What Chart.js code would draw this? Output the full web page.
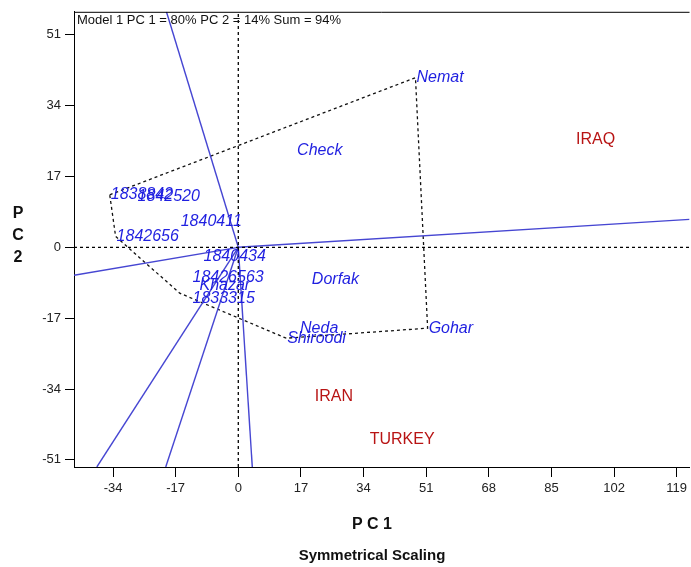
<!DOCTYPE html>
<html>
<head>
<meta charset="utf-8">
<script src="https://cdn.jsdelivr.net/npm/chart.js@4"></script>
<style>
  html,body{margin:0;padding:0;background:#fff;}
  #wrap{width:691px;height:567px;position:relative;}
</style>
</head>
<body>
<div id="wrap"><canvas id="chart"></canvas></div>
<script>
// genotype points (labels start at the point)
const genoNames = ["Nemat","Check","1838842","1842520","1840411","1842656","1840434","18426563","Khazar","1833315","Dorfak","Neda","Shiroodi","Gohar"];
const genoX = [48.1, 15.7, -34.9, -27.6, -15.9, -33.3, -9.7, -12.7, -10.8, -12.7, 19.7, 16.5, 13.0, 51.4];
const genoY = [40.7, 23.2, 12.6, 12.2, 6.2, 2.6, -2.2, -7.2, -9.1, -12.2, -7.7, -19.6, -21.8, -19.4];

// environments
const envNames = ["IRAQ","IRAN","TURKEY"];
const envX = [91.4, 20.5, 35.4];
const envY = [25.9, -35.9, -46.2];

// polygon (convex hull) vertices
const hullX = [-34.9, 48.1, 51.4, 13.0, -15.9, -33.3, -34.9];
const hullY = [12.6, 40.7, -19.4, -21.8, -11.0, 2.6, 12.6];

// rays from origin, end points
const rayX = [-19.5, 122.5, -44.6, 3.8, -38.4, -19.7];
const rayY = [56.5, 6.7, -6.7, -52.7, -52.7, -52.7];

const xTicks = [-34,-17,0,17,34,51,68,85,102,119];
const yTicks = [-51,-34,-17,0,17,34,51];
const xMin = -44.6, xMax = 122.5, yMin = -52.7, yMax = 56.5;

const blue = "#1f1fe0", red = "#b81414", rayCol = "#4646d2";

const datasets = [];
// dashed zero lines
datasets.push({data:[{x:xMin,y:0},{x:xMax,y:0}], borderColor:"#000", borderWidth:1.3, borderDash:[3,3], showLine:true, pointRadius:0});
datasets.push({data:[{x:0,y:yMin},{x:0,y:yMax}], borderColor:"#000", borderWidth:1.3, borderDash:[3,3], showLine:true, pointRadius:0});
// rays
rayX.forEach((rx,i)=>{
  datasets.push({data:[{x:0,y:0},{x:rx,y:rayY[i]}], borderColor:rayCol, borderWidth:1.4, showLine:true, pointRadius:0});
});
// polygon
datasets.push({data:hullX.map((v,i)=>({x:v,y:hullY[i]})), borderColor:"#111", borderWidth:1.3, borderDash:[3,3], showLine:true, pointRadius:0});
// labelled points
datasets.push({data:genoX.map((v,i)=>({x:v,y:genoY[i]})), pointRadius:0, labels:genoNames, labelColor:blue, labelFont:"italic 16px 'Liberation Sans', Arial, sans-serif"});
datasets.push({data:envX.map((v,i)=>({x:v,y:envY[i]})), pointRadius:0, labels:envNames, labelColor:red, labelFont:"16px 'Liberation Sans', Arial, sans-serif"});

const textPlugin = {
  id:"texts",
  afterDatasetsDraw(chart){
    const ctx = chart.ctx, a = chart.chartArea;
    ctx.save();
    // point labels
    chart.data.datasets.forEach((ds,di)=>{
      if(!ds.labels) return;
      const meta = chart.getDatasetMeta(di);
      ctx.fillStyle = ds.labelColor;
      ctx.font = ds.labelFont;
      ctx.textAlign = "left";
      ctx.textBaseline = "middle";
      meta.data.forEach((pt,i)=>ctx.fillText(ds.labels[i], pt.x+1, pt.y));
    });
    // top border
    ctx.strokeStyle = "#000";
    ctx.lineWidth = 1;
    ctx.beginPath();
    ctx.moveTo(a.left, a.top+0.5);
    ctx.lineTo(a.right, a.top+0.5);
    ctx.stroke();
    // header
    ctx.fillStyle = "#111";
    ctx.font = "13px 'Liberation Sans', Arial, sans-serif";
    ctx.textAlign = "left";
    ctx.textBaseline = "middle";
    ctx.fillText("Model 1 PC 1 = 80% PC 2 = 14% Sum = 94%", a.left+3, a.top+9);
    // axis titles
    ctx.font = "bold 16px 'Liberation Sans', Arial, sans-serif";
    ctx.textAlign = "center";
    ctx.fillText("P C 1", 372, 525);
    ["P","C","2"].forEach((c,i)=>ctx.fillText(c, 18, 214+i*22));
    ctx.font = "bold 15px 'Liberation Sans Narrow', 'Liberation Sans', Arial, sans-serif";
    ctx.fillText("Symmetrical Scaling", 372, 556);
    ctx.restore();
  }
};

new Chart(document.getElementById("chart"),{
  type:"scatter",
  data:{datasets},
  plugins:[textPlugin],
  options:{
    responsive:true,
    maintainAspectRatio:false,
    animation:false,
    events:[],
    layout:{padding:{top:11,right:0,left:0,bottom:0}},
    plugins:{legend:{display:false},tooltip:{enabled:false}},
    scales:{
      x:{
        type:"linear", min:xMin, max:xMax,
        afterBuildTicks:s=>{s.ticks=xTicks.map(v=>({value:v}));},
        afterFit:s=>{s.height=100;},
        grid:{drawOnChartArea:false, drawTicks:true, tickLength:10, color:"#000"},
        border:{display:true,color:"#000",width:1},
        ticks:{color:"#222", font:{family:"'Liberation Sans Narrow', 'Liberation Sans', Arial", size:13}, padding:4, maxRotation:0, autoSkip:false}
      },
      y:{
        type:"linear", min:yMin, max:yMax,
        afterBuildTicks:s=>{s.ticks=yTicks.map(v=>({value:v}));},
        afterFit:s=>{s.width=74;},
        grid:{drawOnChartArea:false, drawTicks:true, tickLength:9, color:"#000"},
        border:{display:true,color:"#000",width:1},
        ticks:{color:"#222", font:{family:"'Liberation Sans Narrow', 'Liberation Sans', Arial", size:13}, padding:4, autoSkip:false}
      }
    }
  }
});
</script>
</body>
</html>
